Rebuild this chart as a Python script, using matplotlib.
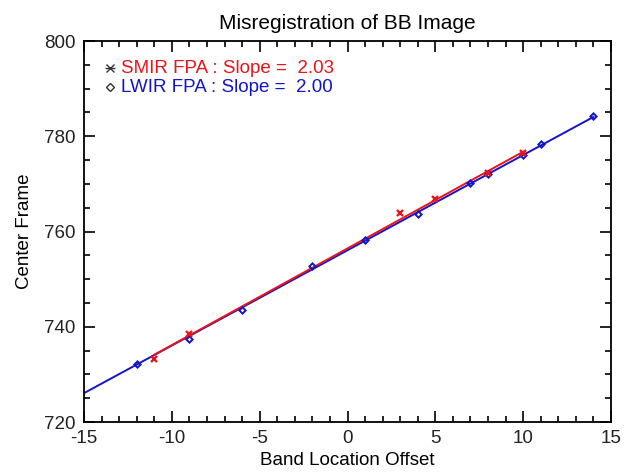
import matplotlib
matplotlib.use("Agg")
import matplotlib.pyplot as plt
import numpy as np
from matplotlib.ticker import MultipleLocator

plt.rcParams["font.family"] = ["Liberation Sans", "DejaVu Sans"]
plt.rcParams["axes.unicode_minus"] = False

# band location offsets and centre frames for each focal plane array
smir_offset = [-11, -9, 3, 5, 8, 10]
smir_frame = [733.3, 738.4, 763.8, 766.8, 772.2, 776.4]
lwir_offset = [-12, -9, -6, -2, 1, 4, 7, 8, 10, 11, 14]
lwir_frame = [732.1, 737.5, 743.6, 752.7, 758.2, 763.7, 770.2, 772.0, 776.1, 778.3, 784.3]

# linear fits (slope, intercept)
smir_fit = (2.03, 756.45)
lwir_fit = (2.00, 756.06)
smir_range = (-11, 10)
lwir_range = (-15, 14)

RED = "#e8141c"
BLUE = "#1414c8"

fig = plt.figure(figsize=(6.33, 4.74), dpi=100)
ax = fig.add_axes([0.1327, 0.1097, 0.8326, 0.8038])

xs = np.array(lwir_range, dtype=float)
ax.plot(xs, lwir_fit[0] * xs + lwir_fit[1], color=BLUE, lw=1.4, zorder=2)
xs = np.array(smir_range, dtype=float)
ax.plot(xs, smir_fit[0] * xs + smir_fit[1], color=RED, lw=1.4, zorder=3)

ax.plot(lwir_offset, lwir_frame, ls="none", marker="D", ms=3.2, mfc="none",
        mec=BLUE, mew=1.4, zorder=4)
ax.plot(smir_offset, smir_frame, ls="none", marker="x", ms=4.5, mec=RED,
        mew=1.7, zorder=5)

ax.set_xlim(-15, 15)
ax.set_ylim(720, 800)
ax.xaxis.set_major_locator(MultipleLocator(5))
ax.xaxis.set_minor_locator(MultipleLocator(1))
ax.yaxis.set_major_locator(MultipleLocator(20))
ax.yaxis.set_minor_locator(MultipleLocator(5))
ax.tick_params(which="both", direction="in", top=True, right=True,
               labelsize=13.5, width=1.2, pad=6, labelcolor="#222222")
ax.tick_params(which="major", length=8)
ax.tick_params(which="minor", length=4)
for sp in ax.spines.values():
    sp.set_linewidth(1.3)

ax.set_title("Misregistration of BB Image", fontsize=15, pad=9)
ax.set_xlabel("Band Location Offset", fontsize=13.5, labelpad=3)
ax.set_ylabel("Center Frame", fontsize=13.5, labelpad=8)

# legend drawn as symbol + coloured text
ax.plot([0.049], [0.928], transform=ax.transAxes, marker="x", ms=6,
        mec="#333333", mew=1.0, ls="none", clip_on=False)
ax.plot([0.049], [0.928], transform=ax.transAxes, marker="_", ms=7,
        mec="#333333", mew=1.0, ls="none", clip_on=False)
ax.plot([0.049], [0.878], transform=ax.transAxes, marker="D", ms=4.5,
        mfc="none", mec="#333333", mew=1.0, ls="none", clip_on=False)
ax.text(0.07, 0.928, f"SMIR FPA : Slope =  {smir_fit[0]:.2f}",
        transform=ax.transAxes, color=RED, fontsize=13.5, va="center")
ax.text(0.07, 0.878, f"LWIR FPA : Slope =  {lwir_fit[0]:.2f}",
        transform=ax.transAxes, color=BLUE, fontsize=13.5, va="center")

fig.savefig("out.png", dpi=100)
